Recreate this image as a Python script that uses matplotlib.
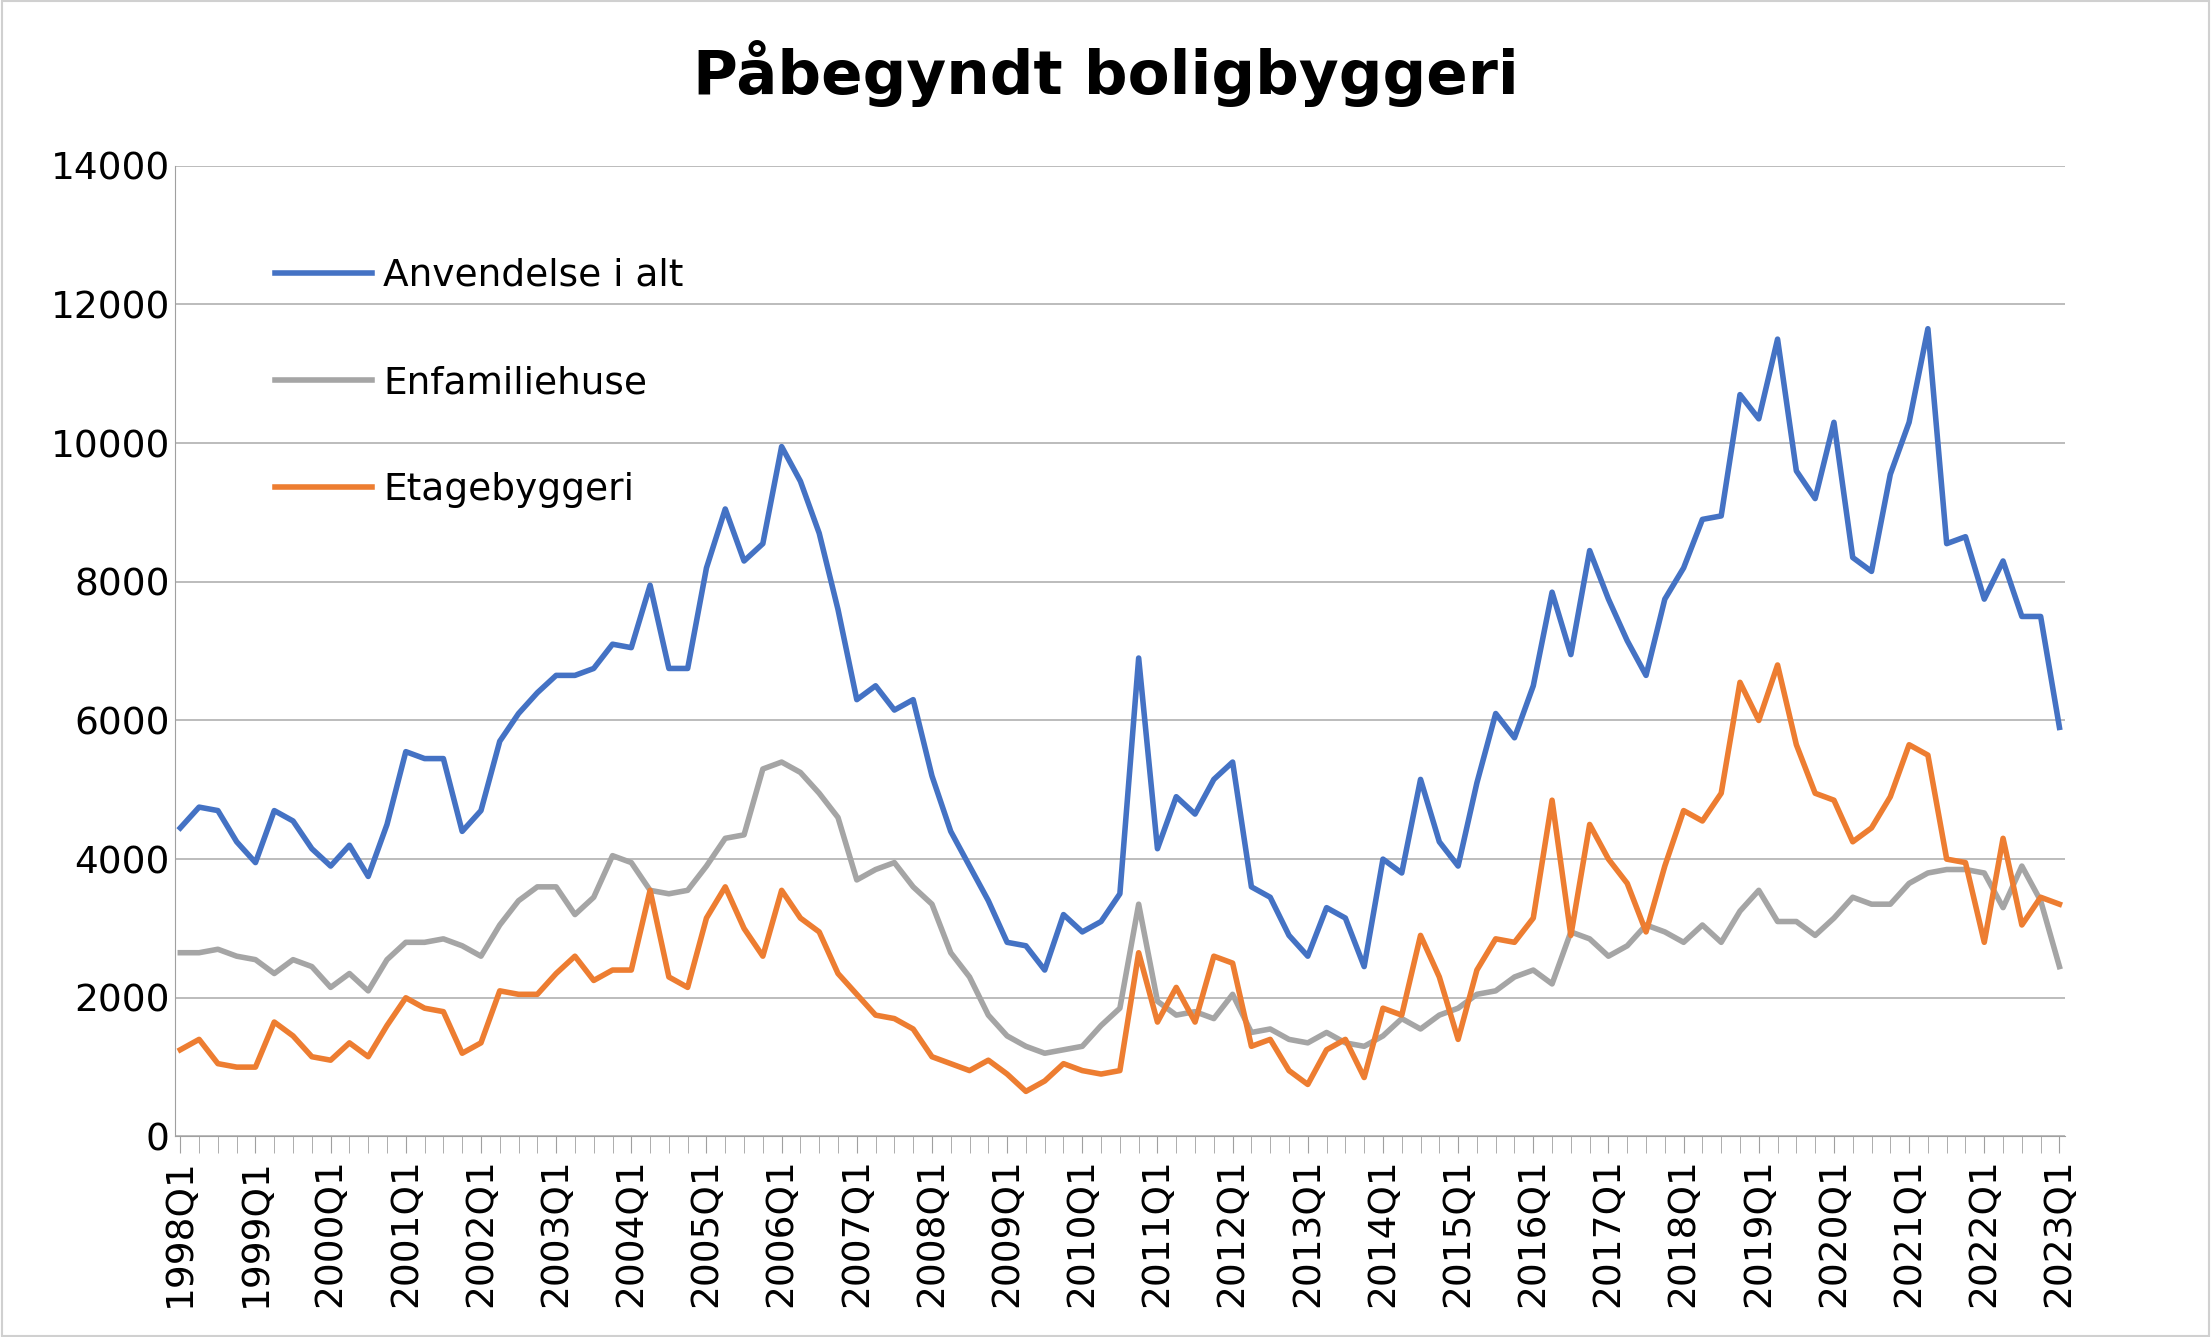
import matplotlib.pyplot as plt
from matplotlib.ticker import MultipleLocator, FixedLocator

anvendelse = [4450, 4750, 4700, 4250, 3950, 4700, 4550, 4150, 3900, 4200, 3750, 4500,
              5550, 5450, 5450, 4400, 4700, 5700, 6100, 6400, 6650, 6650, 6750, 7100,
              7050, 7950, 6750, 6750, 8200, 9050, 8300, 8550, 9950, 9450, 8700, 7600,
              6300, 6500, 6150, 6300, 5200, 4400, 3900, 3400, 2800, 2750, 2400, 3200,
              2950, 3100, 3500, 6900, 4150, 4900, 4650, 5150, 5400, 3600, 3450, 2900,
              2600, 3300, 3150, 2450, 4000, 3800, 5150, 4250, 3900, 5100, 6100, 5750,
              6500, 7850, 6950, 8450, 7750, 7150, 6650, 7750, 8200, 8900, 8950, 10700,
              10350, 11500, 9600, 9200, 10300, 8350, 8150, 9550, 10300, 11650, 8550, 8650,
              7750, 8300, 7500, 7500, 5900]
enfamilie = [2650, 2650, 2700, 2600, 2550, 2350, 2550, 2450, 2150, 2350, 2100, 2550,
             2800, 2800, 2850, 2750, 2600, 3050, 3400, 3600, 3600, 3200, 3450, 4050,
             3950, 3550, 3500, 3550, 3900, 4300, 4350, 5300, 5400, 5250, 4950, 4600,
             3700, 3850, 3950, 3600, 3350, 2650, 2300, 1750, 1450, 1300, 1200, 1250,
             1300, 1600, 1850, 3350, 1950, 1750, 1800, 1700, 2050, 1500, 1550, 1400,
             1350, 1500, 1350, 1300, 1450, 1700, 1550, 1750, 1850, 2050, 2100, 2300,
             2400, 2200, 2950, 2850, 2600, 2750, 3050, 2950, 2800, 3050, 2800, 3250,
             3550, 3100, 3100, 2900, 3150, 3450, 3350, 3350, 3650, 3800, 3850, 3850,
             3800, 3300, 3900, 3400, 2450]
etage = [1250, 1400, 1050, 1000, 1000, 1650, 1450, 1150, 1100, 1350, 1150, 1600,
         2000, 1850, 1800, 1200, 1350, 2100, 2050, 2050, 2350, 2600, 2250, 2400,
         2400, 3550, 2300, 2150, 3150, 3600, 3000, 2600, 3550, 3150, 2950, 2350,
         2050, 1750, 1700, 1550, 1150, 1050, 950, 1100, 900, 650, 800, 1050,
         950, 900, 950, 2650, 1650, 2150, 1650, 2600, 2500, 1300, 1400, 950,
         750, 1250, 1400, 850, 1850, 1750, 2900, 2300, 1400, 2400, 2850, 2800,
         3150, 4850, 2900, 4500, 4000, 3650, 2950, 3900, 4700, 4550, 4950, 6550,
         6000, 6800, 5650, 4950, 4850, 4250, 4450, 4900, 5650, 5500, 4000, 3950,
         2800, 4300, 3050, 3450, 3350]
labels = [f'{y}Q1' for y in range(1998, 2024)]

fig = plt.figure(figsize=(22.11, 13.37), dpi=100)
fig.patches.append(plt.Rectangle((0.001, 0.001), 0.998, 0.998, transform=fig.transFigure,
                                 fill=False, edgecolor='#d0d0d0', linewidth=1.5))
ax = fig.add_axes([0.079, 0.15, 0.855, 0.726])

x = range(len(anvendelse))
ax.plot(x, anvendelse, color='#4472C4', lw=4, label='Anvendelse i alt')
ax.plot(x, enfamilie, color='#A5A5A5', lw=4, label='Enfamiliehuse')
ax.plot(x, etage, color='#ED7D31', lw=4, label='Etagebyggeri')

ax.set_xlim(-0.3, len(anvendelse) - 0.7)
ax.set_ylim(0, 14000)
ax.yaxis.set_major_locator(MultipleLocator(2000))
ax.xaxis.set_major_locator(FixedLocator(range(0, len(anvendelse), 4)))
ax.xaxis.set_minor_locator(MultipleLocator(1))
ax.set_xticklabels(labels, rotation=90)
ax.tick_params(axis='both', labelsize=27)
ax.tick_params(axis='x', which='both', length=12, color='#a0a0a0')
ax.tick_params(axis='y', length=0)
ax.grid(axis='y', color='#b0b0b0', lw=1.2)
ax.set_axisbelow(True)
for s in ['top', 'right']:
    ax.spines[s].set_visible(False)
ax.spines['left'].set_color('#a0a0a0')
ax.spines['bottom'].set_color('#a0a0a0')

fig.suptitle('Påbegyndt boligbyggeri', fontsize=44, fontweight='bold', y=0.97)
ax.legend(loc='upper left', bbox_to_anchor=(0.035, 0.94), frameon=False, fontsize=27,
          handlelength=2.6, handletextpad=0.3, labelspacing=1.9)

fig.savefig('out.png')
